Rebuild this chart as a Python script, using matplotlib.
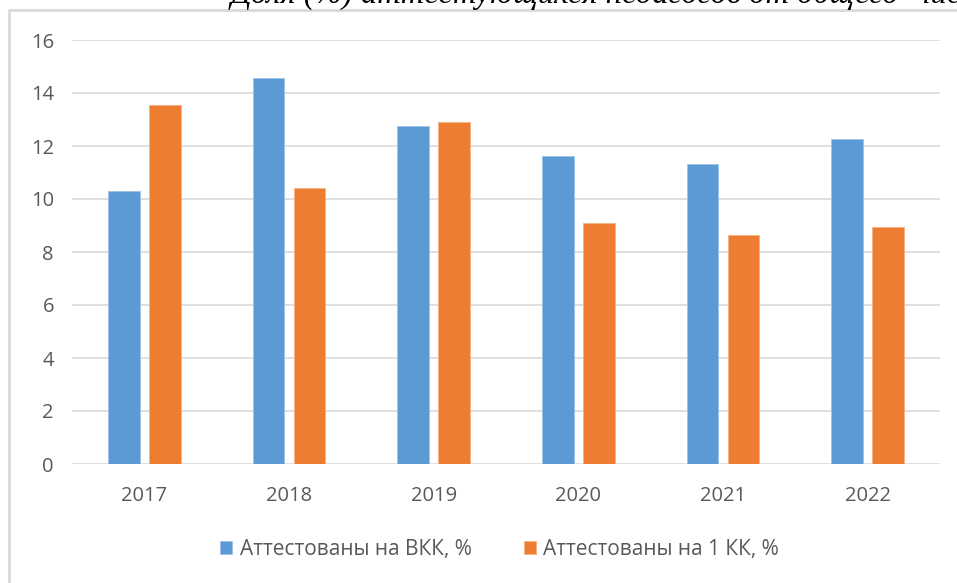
import numpy as np
import matplotlib.pyplot as plt
from matplotlib.patches import Rectangle

# data
years = ['2017', '2018', '2019', '2020', '2021', '2022']
vkk = [10.3, 14.57, 12.75, 11.62, 11.32, 12.26]
kk1 = [13.55, 10.42, 12.9, 9.09, 8.64, 8.94]
label_vkk = 'Аттестованы на ВКК, %'
label_kk1 = 'Аттестованы на 1 КК, %'
title = 'Доля (%) аттестующихся педагогов от общего  числа'

blue = '#5B9BD5'
orange = '#ED7D31'
txt = '#595959'

plt.rcParams['font.family'] = ['Open Sans', 'DejaVu Sans']

fig = plt.figure(figsize=(9.57, 5.83), dpi=100)
ax = fig.add_axes([72/957, 1-464/583, (940-72)/957, (464-40)/583])

x = np.arange(len(years))
w = 0.22
ax.bar(x - 0.142, vkk, w, color=blue, edgecolor='#9DC3E6', linewidth=0.6, label=label_vkk, zorder=3)
ax.bar(x + 0.142, kk1, w, color=orange, edgecolor='#F4B183', linewidth=0.6, label=label_kk1, zorder=3)

ax.set_xlim(-0.5, len(years) - 0.5)
ax.set_ylim(0, 16)
ax.set_yticks(range(0, 17, 2))
ax.set_xticks(x)
ax.set_xticklabels(years)
ax.grid(axis='y', color='#D9D9D9', linewidth=1.2, zorder=0)
for s in ax.spines.values():
    s.set_visible(False)
ax.tick_params(length=0, labelsize=14.5, labelcolor=txt)
ax.tick_params(axis='y', pad=13)
ax.tick_params(axis='x', pad=16)

leg = fig.legend(loc='center', bbox_to_anchor=(0.522, 1-549/583), ncol=2, frameon=False,
                 fontsize=15, labelcolor=txt, handlelength=0.6, handleheight=0.6,
                 handletextpad=0.35, columnspacing=2.5)

# outer frame of the chart (cut off at right and bottom)
fig.patches.append(Rectangle((9/957, -0.1), 1.2, 1.1 - 10/583, transform=fig.transFigure,
                             fill=False, edgecolor='#D9D9D9', linewidth=2))

# the title above, cut by the page edge
fig.text(231/957, 1-3/583, title, fontsize=23.5, style='italic', family='Liberation Serif',
         ha='left', va='baseline', color='black')

fig.savefig('out.png', dpi=100)
